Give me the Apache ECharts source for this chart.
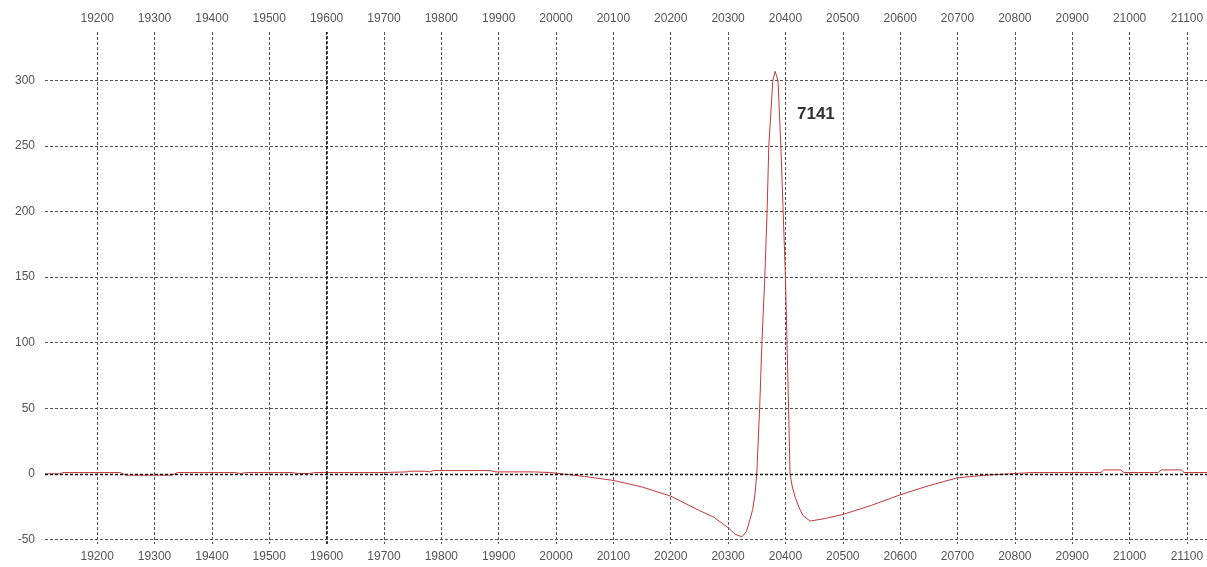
<!DOCTYPE html>
<html><head><meta charset="utf-8">
<script src="https://cdn.jsdelivr.net/npm/echarts@6/dist/echarts.min.js"></script>
<style>html,body{margin:0;padding:0;background:#fff}#c{width:1207px;height:567px}</style>
</head><body><div id="c"></div>
<script>
const xs = [19109,19135,19140,19240,19250,19330,19340,19440,19450,19460,19540,19550,19570,19580,19700,19740,19745,19772,19780,19786,19885,19895,19960,19990,
  20000,20050,20100,20150,20200,20250,20275,20300,20312,20324,20332,20338,20343,20347,20350,20355,20359,20364,20368,20371,20378,20382,20387,20392,20396,20400,20403,20406,20408,20412,20417,20425,20431,20443,20470,20500,20550,20600,20650,20700,20750,20790,
  20830,20950,20955,20985,20990,21050,21055,21090,21095,21135];
const ys = [0,0,1,1,-1,-1,1,1,0.3,1,1,0.3,0.3,1,1,1.5,2,2,1.5,2.5,2.5,1.5,1.5,1,
  0.5,-2,-5,-10,-17,-28,-33,-41,-46,-48,-44,-35,-27,-15,0,50,100,150,200,250,300,307,300,250,200,150,95,40,0,-10,-18,-27,-32,-36,-34,-31,-24,-16,-9,-3,-1,0,
  1,1,3,3,1,1,3,3,1,1];
const xTickStep = 100;
const yTickStep = 50;
const annotation = '7141';

const chart = echarts.init(document.getElementById('c'), null, {renderer:'canvas'});
const font = "'Liberation Sans',Arial,sans-serif";
const grid = {type:[3,2], color:'#555', width:1};
const xCommon = {
  type:'value', min:19109, max:21135, minInterval:xTickStep, maxInterval:xTickStep,
  axisLine:{show:false}, axisTick:{show:false},
  axisLabel:{showMinLabel:false, showMaxLabel:false, fontFamily:font, fontSize:12, color:'#555', margin:7,
    formatter: v => String(v)},
};
chart.setOption({
  animation:false,
  grid:{left:45, right:0, top:32, bottom:23},
  xAxis:[
    Object.assign({}, xCommon, {position:'bottom', splitLine:{show:true, showMinLine:false, showMaxLine:false, lineStyle:grid}}),
    Object.assign({}, xCommon, {position:'top', splitLine:{show:false}})
  ],
  yAxis:{
    type:'value', min:-53.5, max:337, minInterval:yTickStep, maxInterval:yTickStep,
    axisLine:{show:false}, axisTick:{show:false},
    axisLabel:{showMinLabel:false, showMaxLabel:false, fontFamily:font, fontSize:12, color:'#555', margin:10,
      formatter: v => String(v)},
    splitLine:{show:true, showMinLine:false, showMaxLine:false, lineStyle:grid}
  },
  series:[{
    type:'line', xAxisIndex:0, data: xs.map((x,i)=>[x, ys[i]]),
    showSymbol:false, smooth:false, lineStyle:{color:'#c23a3a', width:1},
    markLine:{silent:true, symbol:'none', label:{show:false},
      data:[{yAxis:0, lineStyle:{color:'#111', type:[3,2], width:1.3}},
            {xAxis:19600, lineStyle:{color:'#111', type:[3,2], width:1.5}}]},
    z:3
  }],
  graphic:[{type:'text', left:797, top:106, style:{text:annotation, font:"bold 17px 'Liberation Sans', Arial, sans-serif", fill:'#333'}}]
});
</script></body></html>
